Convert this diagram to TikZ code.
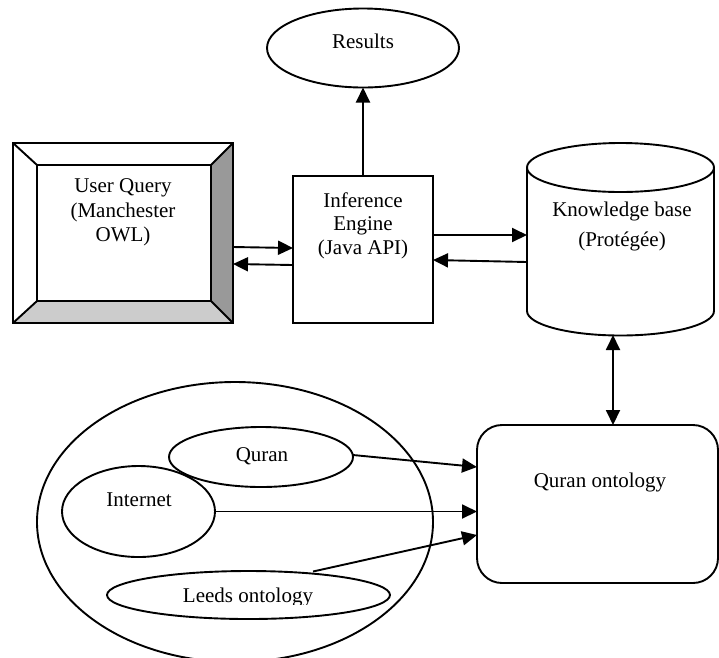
\documentclass[tikz,border=0pt]{standalone}
\usepackage{fontspec}
\setmainfont{Liberation Serif}
\usetikzlibrary{arrows.meta,shapes.geometric,calc}
\begin{document}
\begin{tikzpicture}[x=1pt,y=-1pt,
  line width=1.9pt,
  every node/.style={font=\fontsize{21pt}{24.5pt}\selectfont, inner sep=0pt, outer sep=0pt},
  lbl/.style={align=center, anchor=north},
  oval/.style={ellipse, draw, line width=1.9pt},
  arr/.style={-{Triangle[length=15pt,width=14pt]}, line width=1.9pt},
  darr/.style={{Triangle[length=15pt,width=14pt]}-{Triangle[length=15pt,width=14pt]}, line width=1.9pt}]
\useasboundingbox (0,0) rectangle (719,657);
\clip (0,0) rectangle (719,657);

% Results
\node[oval, minimum width=192pt, minimum height=79pt] (res) at (363,48) {};
\node[anchor=base] (resT) at (363,48.3) {Results};

% User query bevel box
\node[minimum width=220pt, minimum height=180pt] (uq) at (123,233) {};
\fill[white] (13,143) -- (233,143) -- (211,165) -- (37,165) -- cycle;
\fill[white] (13,143) -- (37,165) -- (37,301) -- (13,323) -- cycle;
\fill[black!40] (233,143) -- (233,323) -- (211,301) -- (211,165) -- cycle;
\fill[black!20] (13,323) -- (233,323) -- (211,301) -- (37,301) -- cycle;
\draw (13,143) rectangle (233,323);
\draw (37,165) rectangle (211,301);
\draw (13,143) -- (37,165) (233,143) -- (211,165) (233,323) -- (211,301) (13,323) -- (37,301);
\node[lbl, font=\fontsize{21pt}{24.5pt}\selectfont] (uqT) at (123,178.8) {User Query\\(Manchester\\OWL)};

% Inference engine
\node[draw, minimum width=140pt, minimum height=147pt] (inf) at (363,249.5) {};
\node[lbl, font=\fontsize{21pt}{23.5pt}\selectfont] (infT) at (363,192.4) {Inference\\Engine\\(Java API)};

% Knowledge base cylinder
\node[minimum width=187pt, minimum height=192.5pt] (kb) at (620.5,239.25) {};
\draw[fill=white] (527,167.5) -- (527,311) arc[start angle=180, end angle=360, x radius=93.5, y radius=-24.5] -- (714,167.5);
\draw (620.5,167.5) ellipse[x radius=93.5, y radius=24.5];
\node[lbl, font=\fontsize{21pt}{29.3pt}\selectfont] (kbT) at (622,202.4) {Knowledge base\\(Protégée)};

% Quran ontology
\node[draw, rounded corners=25pt, minimum width=241pt, minimum height=158pt] (qo) at (597.5,504) {};
\node[anchor=base] (qoT) at (600,487) {Quran ontology};

% Sources
\node[oval, minimum width=396pt, minimum height=280pt] (src) at (235,522) {};
\node[oval, minimum width=184pt, minimum height=60pt] (qur) at (261,457) {};
\node[anchor=base] (qurT) at (262,461.7) {Quran};
\node[oval, minimum width=153pt, minimum height=91pt] (int) at (138.5,511.5) {};
\node[anchor=base] (intT) at (139,506.7) {Internet};
\node[oval, minimum width=283pt, minimum height=48pt] (lee) at (248.5,595) {};
\begin{scope}
\clip (0,0) rectangle (719,604);
\node[anchor=base] (leeT) at (248,602.5) {Leeds ontology};
\end{scope}

% Connectors
\coordinate (uqA) at (uq.east |- 0,247);
\coordinate (infA) at (inf.west |- 0,248);
\coordinate (uqB) at (uq.east |- 0,264);
\coordinate (infB) at (inf.west |- 0,265);
\draw[arr] (uqA) -- (infA);
\draw[arr] (infB) -- (uqB);

\coordinate (infC) at (inf.east |- 0,235);
\coordinate (kbC) at (kb.west |- 0,235);
\coordinate (kbD) at (kb.west |- 0,262);
\coordinate (infD) at (inf.east |- 0,260);
\draw[arr] (infC) -- (kbC);
\draw[arr] (kbD) -- (infD);

\draw[arr] (inf.north) -- (res.south);

\coordinate (kbE) at (613,335);
\coordinate (qoE) at (613,425);
\draw[darr] (kbE) -- (qoE);

\coordinate (qurF) at (353,455);
\coordinate (qoF) at (qo.west |- 0,467);
\draw[arr] (qurF) -- (qoF);
\coordinate (qoG) at (qo.west |- int.east);
\draw[arr] (int.east) -- (qoG);
\coordinate (leeH) at (313,571.5);
\coordinate (qoH) at (qo.west |- 0,535);
\draw[arr] (leeH) -- (qoH);
\end{tikzpicture}
\end{document}
